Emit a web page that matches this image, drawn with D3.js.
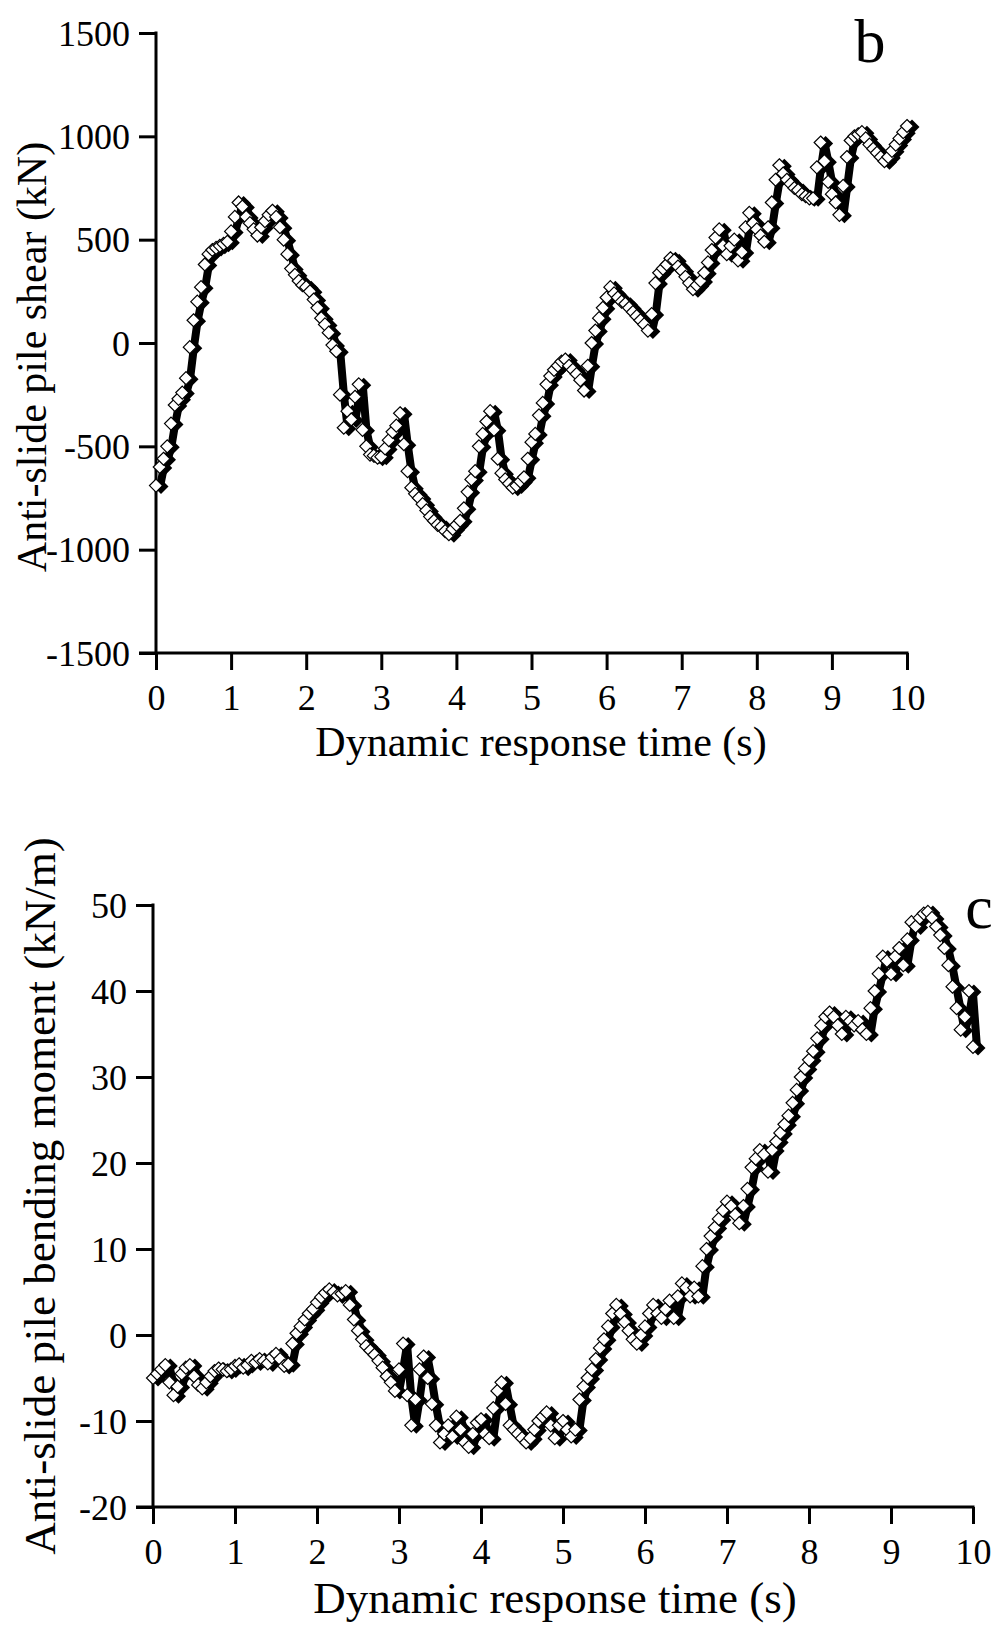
<!DOCTYPE html>
<html>
<head>
<meta charset="utf-8">
<script src="https://cdn.jsdelivr.net/npm/d3@7"></script>
<style>
  html, body { margin: 0; padding: 0; background: #fff; }
  svg { display: block; }
  text { font-family: "Liberation Serif", "Times New Roman", serif; fill: #000; }
</style>
</head>
<body>
<svg id="chart" width="996" height="1628"></svg>
<script>
// Time samples (s), shared by both panels
const timeStep = 0.05;

// Panel b: anti-slide pile shear (kN)
const shearValues = [
  -690, -600, -560, -500, -390, -300, -270, -240, -170, -20,
  110, 200, 270, 380, 430, 450, 460, 470, 480, 490,
  540, 610, 680, 660, 610, 580, 550, 520, 560, 590,
  620, 640, 610, 560, 500, 430, 360, 330, 300, 280,
  270, 250, 210, 170, 120, 90, 50, -10, -40, -250,
  -410, -330, -370, -260, -200, -420, -500, -540, -545, -555,
  -550, -510, -470, -430, -400, -340, -490, -620, -700, -730,
  -750, -780, -810, -840, -860, -880, -890, -910, -925, -900,
  -880, -860, -800, -720, -660, -620, -500, -440, -380, -330,
  -420, -560, -630, -660, -680, -700, -690, -670, -650, -560,
  -480, -440, -350, -290, -200, -160, -130, -110, -90, -80,
  -110, -130, -150, -180, -230, -110, 0, 60, 120, 170,
  220, 270, 240, 220, 200, 190, 170, 150, 130, 110,
  90, 60, 140, 290, 340, 360, 380, 410, 400, 370,
  350, 320, 290, 260, 280, 300, 340, 390, 450, 510,
  550, 470, 430, 470, 500, 400, 440, 560, 630, 580,
  550, 520, 490, 560, 680, 790, 860, 820, 790, 770,
  750, 740, 720, 710, 700, 700, 850, 970, 880, 780,
  720, 680, 620, 760, 900, 980, 1000, 1010, 1020, 990,
  960, 940, 920, 900, 880, 900, 930, 960, 990, 1020,
  1050
];

// Panel c: anti-slide pile bending moment (kN/m)
const momentValues = [
  -5.0, -4.5, -4.0, -3.5, -5.5, -7.0, -6.0, -4.5, -3.8, -3.5,
  -4.8, -5.8, -6.2, -5.5, -4.8, -4.2, -3.9, -4.0, -4.2, -4.0,
  -3.6, -3.4, -3.8, -3.5, -3.0, -3.2, -2.8, -3.0, -3.3, -2.6,
  -2.2, -2.8, -3.6, -3.4, -1.0, 0.2, 1.0, 1.8, 2.5, 3.0,
  3.8, 4.4, 4.9, 5.3, 5.0, 4.6, 4.8, 5.1, 3.5, 1.8,
  0.5, -0.5, -1.3, -1.8, -2.3, -3.0, -3.8, -4.8, -5.5, -6.5,
  -4.0, -1.0, -7.0, -10.5, -7.5, -4.0, -2.5, -5.0, -8.0, -10.5,
  -12.5, -11.5, -10.5, -11.8, -9.5, -11.0, -12.5, -13.0, -11.5, -10.2,
  -9.8, -11.5, -12.0, -8.5, -6.5, -5.5, -8.0, -10.5, -11.0, -11.5,
  -12.0, -12.5, -12.0, -11.0, -10.0, -9.5, -9.0, -10.5, -12.0, -10.5,
  -10.0, -11.0, -11.8, -11.0, -7.5, -6.0, -5.0, -4.0, -2.8, -1.5,
  -0.5, 1.0, 2.5, 3.5, 2.5, 1.5, 0.5, -0.5, -1.0, 0.0,
  1.0, 2.5, 3.5, 2.5, 2.0, 3.0, 4.0, 2.0, 4.5, 6.0,
  5.5, 4.5, 5.5, 4.5, 8.0, 10.0, 11.5, 12.5, 13.5, 14.5,
  15.5, 15.0, 14.0, 13.0, 15.0, 17.0, 19.5, 20.5, 21.5, 21.0,
  19.0, 21.5, 22.5, 23.5, 24.5, 25.5, 27.0, 28.5, 30.0, 31.0,
  32.0, 33.0, 34.5, 36.0, 37.0, 37.5, 37.0, 36.0, 35.0, 37.0,
  36.5, 36.0, 36.5, 35.5, 35.0, 38.0, 40.0, 42.0, 44.0, 43.5,
  42.0, 44.0, 45.0, 43.0, 46.0, 48.0, 47.5, 48.5, 49.0, 49.2,
  48.5, 47.5, 46.5, 45.0, 43.0, 40.5, 38.0, 35.5, 37.0, 40.0,
  33.5
];

// Axis ticks
const timeTicks = [0, 1, 2, 3, 4, 5, 6, 7, 8, 9, 10];
const shearTicks = [-1500, -1000, -500, 0, 500, 1000, 1500];
const momentTicks = [-20, -10, 0, 10, 20, 30, 40, 50];

const svg = d3.select("#chart");

// Square-ish diamond markers: open face and its solid shadow
const diamond = "M0,-6.5L6.5,0L0,6.5L-6.5,0Z";
const shadow = "M0,-7.5L7.5,0L0,7.5L-7.5,0Z";

function drawPanel(cfg) {
  const g = svg.append("g");
  const x = d3.scaleLinear().domain([0, 10]).range(cfg.xRange);
  const y = d3.scaleLinear().domain(cfg.yDomain).range(cfg.yRange);
  const tick = 17;
  const data = cfg.values.map((v, i) => ({ t: +(i * timeStep).toFixed(2), v }));

  // y axis
  const ya = g.append("g")
    .attr("transform", `translate(${x(0)},0)`)
    .call(d3.axisLeft(y).tickValues(cfg.yTicks).tickSize(tick).tickSizeOuter(0)
      .tickPadding(9).tickFormat(d => String(d)));
  ya.select(".domain").remove();
  ya.selectAll(".tick line").attr("stroke", "#000").attr("stroke-width", 3);
  ya.selectAll(".tick text").style("font-size", "36px").attr("dy", "0.34em");

  // x axis
  const xa = g.append("g")
    .attr("transform", `translate(0,${y(cfg.yDomain[0])})`)
    .call(d3.axisBottom(x).tickValues(timeTicks).tickSize(tick).tickSizeOuter(0)
      .tickPadding(cfg.xPad).tickFormat(d => String(d)));
  xa.select(".domain").remove();
  xa.selectAll(".tick line").attr("stroke", "#000").attr("stroke-width", 3);
  xa.selectAll(".tick text").style("font-size", "36px");

  // axis lines
  g.append("line")
    .attr("x1", x(0)).attr("x2", x(0))
    .attr("y1", y(cfg.yDomain[1]) - 1.5).attr("y2", y(cfg.yDomain[0]))
    .attr("stroke", "#000").attr("stroke-width", 3);
  g.append("line")
    .attr("x1", x(0) - tick).attr("x2", x(10) + 1.5)
    .attr("y1", y(cfg.yDomain[0])).attr("y2", y(cfg.yDomain[0]))
    .attr("stroke", "#000").attr("stroke-width", 3);

  // axis titles
  g.append("text")
    .attr("x", cfg.xTitle[0]).attr("y", cfg.xTitle[1])
    .attr("text-anchor", "middle")
    .style("font-size", cfg.titleSize + "px")
    .text("Dynamic response time (s)");
  g.append("text")
    .attr("transform", `translate(${cfg.yTitle[0]},${cfg.yTitle[1]}) rotate(-90)`)
    .attr("text-anchor", "middle")
    .style("font-size", cfg.titleSize + "px")
    .text(cfg.yLabel);

  // panel letter
  g.append("text")
    .attr("x", cfg.letterPos[0]).attr("y", cfg.letterPos[1])
    .attr("text-anchor", "middle")
    .style("font-size", "62px")
    .text(cfg.letter);

  // series: thick connecting line, then shadowed open diamonds
  const line = d3.line().x(d => x(d.t)).y(d => y(d.v));
  g.append("path")
    .datum(data)
    .attr("d", line)
    .attr("transform", "translate(4,1)")
    .attr("fill", "none")
    .attr("stroke", "#000")
    .attr("stroke-width", 8)
    .attr("stroke-linejoin", "round");

  const pts = g.append("g").selectAll("g").data(data).join("g")
    .attr("transform", d => `translate(${x(d.t)},${y(d.v)})`);
  pts.append("path").attr("d", shadow)
    .attr("transform", "translate(5,1)")
    .attr("fill", "#000");
  pts.append("path").attr("d", diamond)
    .attr("fill", "#fff").attr("stroke", "#000").attr("stroke-width", 1.2);
}

drawPanel({
  values: shearValues,
  xRange: [156, 907],
  yDomain: [-1500, 1500],
  yRange: [653, 33],
  yTicks: shearTicks,
  xPad: 14,
  titleSize: 42,
  xTitle: [541, 756],
  yTitle: [46, 357],
  yLabel: "Anti-slide pile shear (kN)",
  letter: "b",
  letterPos: [870, 62]
});

drawPanel({
  values: momentValues,
  xRange: [153, 973],
  yDomain: [-20, 50],
  yRange: [1507, 905],
  yTicks: momentTicks,
  xPad: 14,
  titleSize: 45,
  xTitle: [555, 1613],
  yTitle: [55, 1196],
  yLabel: "Anti-slide pile bending moment (kN/m)",
  letter: "c",
  letterPos: [979, 928]
});
</script>
</body>
</html>
